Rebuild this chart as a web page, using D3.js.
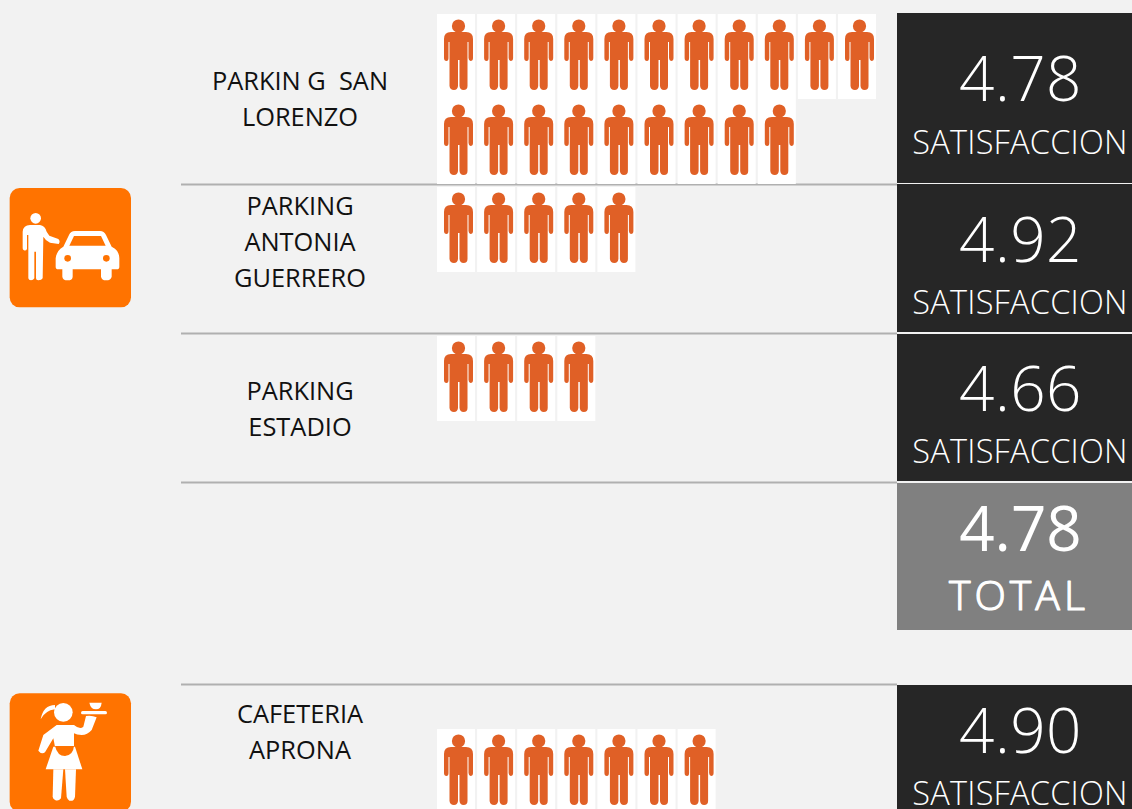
<!DOCTYPE html>
<html><head><meta charset="utf-8">
<script src="https://cdn.jsdelivr.net/npm/d3@7"></script>
<style>html,body{margin:0;padding:0;background:#f2f2f2;overflow:hidden}svg{display:block}</style>
</head><body><div id="c"></div>
<script>
// --- data ---
const categories = [["PARKIN G  SAN","LORENZO"],["PARKING","ANTONIA","GUERRERO"],["PARKING","ESTADIO"],["CAFETERIA","APRONA"]];
const peopleCounts = [20,5,4,7];
const satisfaction = [4.78,4.92,4.66,4.90];
const satisfactionLabel = "SATISFACCION";
const totalValue = 4.78;
const totalLabel = "TOTAL";
const perRow = 11;

// --- layout ---
const W=1132,H=809;
const panelBoxes=[[13,183],[184,332],[334,481],[685,815]];
const iconTops=[14,187,336,729];
const labelCenters=[99,242,409,732];
const numBase=[101,262,411,753];
const subBase=[154,314,463,805];
const ruleYs=[184,333,482,684];
const cellH=85, cellW=38;

const svg=d3.select("#c").append("svg").attr("width",W).attr("height",H);
const defs=svg.append("defs");
defs.append("filter").attr("id","soft").append("feGaussianBlur").attr("stdDeviation",0.45);
svg.append("rect").attr("width",W).attr("height",H).attr("fill","#f2f2f2");

const xCol=d3.scaleLinear().domain([0,perRow-1]).range([437,838]);
const font="'Open Sans',sans-serif";

// rules
svg.append("g").selectAll("line").data(ruleYs).join("line")
  .attr("x1",181).attr("x2",897).attr("y1",d=>d+.5).attr("y2",d=>d+.5)
  .attr("stroke","#b0b0b0").attr("stroke-width",1.8);

// labels
categories.forEach((lines,i)=>{
  const lh=36, y0=labelCenters[i]-(lines.length-1)*lh/2;
  svg.append("text").attr("text-anchor","middle").attr("font-family",font).attr("font-size",25.4).attr("fill","#111")
    .style("white-space","pre")
    .selectAll("tspan").data(lines).join("tspan")
    .attr("x",300).attr("y",(d,j)=>y0+j*lh+9).text(d=>d);
});

// pictogram
const personBody="M7 25Q7 18 14 18H29Q36 18 36 25V44Q36 47 33.500 47Q31.800 47 31.500 44V28H30.500V72Q30.500 76 26.500 76Q23 76 22.500 72V46H21V72Q20.500 76 17 76Q13 76 12.500 72V28H11.500V44Q11.500 47 9.500 47Q7 47 7 44Z";
peopleCounts.forEach((n,i)=>{
  const g=svg.append("g");
  const cells=d3.range(n).map(k=>({col:k%perRow,row:Math.floor(k/perRow)}));
  const c=g.selectAll("g").data(cells).join("g")
    .attr("transform",d=>`translate(${xCol(d.col)},${iconTops[i]+d.row*cellH})`);
  c.append("rect").attr("width",cellW).attr("height",cellH).attr("fill","#fff");
  const p=c.append("g").attr("filter","url(#soft)");
  p.append("circle").attr("cx",21.500).attr("cy",12).attr("r",6.6).attr("fill","#e06026");
  p.append("path").attr("d",personBody).attr("fill","#e06026");
});

// panels
panelBoxes.forEach((b,i)=>{
  svg.append("rect").attr("x",897).attr("y",b[0]).attr("width",W-897).attr("height",b[1]-b[0]).attr("fill","#262626");
  svg.append("text").attr("x",1020.500).attr("y",numBase[i]).attr("text-anchor","middle")
    .attr("font-family",font).attr("font-weight",300).attr("font-size",62).attr("letter-spacing",0.5).attr("fill","#fff").text(d3.format(".2f")(satisfaction[i]));
  svg.append("text").attr("x",1020).attr("y",subBase[i]).attr("text-anchor","middle")
    .attr("font-family",font).attr("font-weight",300).attr("font-size",32.5).attr("letter-spacing",0.2).attr("fill","#fff").text(satisfactionLabel);
});
// total
svg.append("rect").attr("x",897).attr("y",483).attr("width",W-897).attr("height",147).attr("fill","#808080");
svg.append("text").attr("x",1020.500).attr("y",551).attr("text-anchor","middle")
  .attr("font-family",font).attr("font-size",62).attr("fill","#fff").text(d3.format(".2f")(totalValue));
svg.append("text").attr("x",1019).attr("y",610).attr("text-anchor","middle")
  .attr("font-family",font).attr("font-weight",300).attr("font-size",41).attr("letter-spacing",4)
  .attr("fill","#fff").attr("stroke","#fff").attr("stroke-width",1.2).attr("stroke-linejoin","round").text(totalLabel);

// category icons
const orange="#ff7300";
defs.append("filter").attr("id","soft2").attr("x","-5%").attr("y","-5%").attr("width","110%").attr("height","110%").append("feGaussianBlur").attr("stdDeviation",1.6);
function tile(ox,oy,y1,y2){
  const g=svg.append("g").attr("transform",`translate(${ox},${oy}) scale(${1/3})`).attr("filter","url(#soft2)");
  g.append("rect").attr("x",29).attr("y",y1).attr("width",364).attr("height",y2-y1).attr("rx",30).attr("fill",orange);
  return g;
}
const car=tile(0,175,39,397);
car.append("circle").attr("cx",107).attr("cy",130).attr("r",16).attr("fill","#fff");
car.append("path").attr("fill","#fff").attr("d","M68 170Q70 150 90 150H120Q135 152 140 170L148 182L175 192Q182 198 176 207L150 203Q135 195 130 185L128 310Q125 316 115 316Q108 316 108 310V230H103V310Q100 316 93 316Q86 316 85 310V180H81V222Q78 228 72 226Q68 224 68 220Z");
car.append("path").attr("fill","#fff").attr("d","M167 250Q170 225 190 215L207 180Q212 168 225 168H300Q312 168 318 180L335 215Q358 225 358 250V275Q358 283 350 283H335V305Q333 316 318 316Q305 316 303 305V283H218V305Q218 316 203 316Q188 316 187 305V283H175Q167 283 167 275Z");
car.append("path").attr("fill",orange).attr("d","M208 212L222 183H303L317 212Z");
car.append("circle").attr("cx",203).attr("cy",250).attr("r",10).attr("fill",orange);
car.append("circle").attr("cx",319).attr("cy",250).attr("r",10).attr("fill",orange);

const wt=tile(0,680,40,395);
wt.append("circle").attr("cx",190).attr("cy",97).attr("r",28).attr("fill","#fff");
wt.append("path").attr("fill","#fff").attr("d","M165 75Q130 75 122 118Q135 92 165 88Z");
wt.append("rect").attr("x",243).attr("y",93).attr("width",78).attr("height",10).attr("rx",5).attr("fill","#fff");
wt.append("path").attr("fill","#fff").attr("d","M268 68H305Q303 88 288 88Q272 88 268 68Z");
wt.append("path").attr("fill","#fff").attr("d","M130 165L170 135H222Q240 150 250 140L258 108Q275 105 290 112L275 150Q262 165 245 165Q230 165 222 160V200H165L160 175L135 217Q125 225 115 212Z");
wt.append("path").attr("fill","#fff").attr("d","M160 200L137 268H247L225 200Z");
wt.append("path").attr("fill",orange).attr("d","M165 198H222Q220 225 195 228Q172 228 165 198Z");
wt.append("path").attr("fill","#fff").attr("d","M160 268H190L183 355Q175 365 165 360Q158 355 158 350Z");
wt.append("path").attr("fill","#fff").attr("d","M195 268H228L225 350Q222 365 208 362Q203 360 200 350Z");
</script></body></html>
